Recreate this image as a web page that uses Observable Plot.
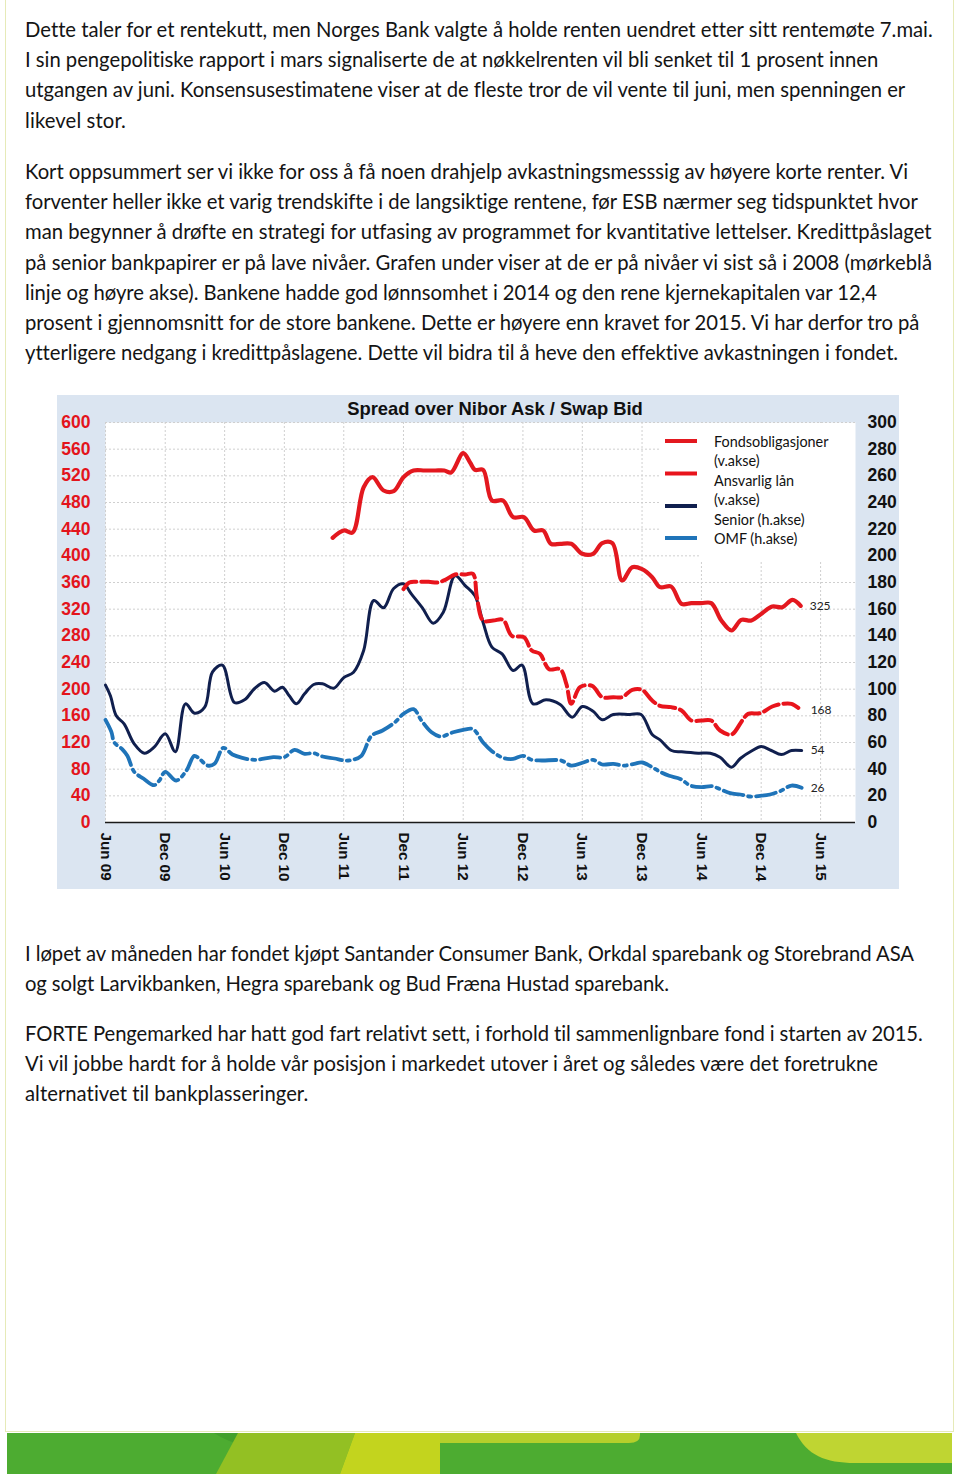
<!DOCTYPE html>
<html>
<head>
<meta charset="utf-8">
<script src="https://cdn.jsdelivr.net/npm/d3@7"></script>
<script src="https://cdn.jsdelivr.net/npm/@observablehq/plot@0.6"></script>
<style>
  html, body { margin: 0; padding: 0; background: #fff; }
  body { width: 960px; height: 1481px; position: relative; overflow: hidden; font-family: Lato, "Open Sans", sans-serif; color: #141414; }
  .border { position: absolute; left: 5px; top: -1px; width: 949px; height: 1433px; border: 1px solid #e6eab8; box-sizing: border-box; }
  .para { position: absolute; left: 25px; line-height: 30.2px; }
  .ln { display: block; width: max-content; white-space: nowrap; }
  #panel { position: absolute; left: 57px; top: 395px; width: 842px; height: 494px; background: #dbe5f1; }
  #plot { position: absolute; left: 0; top: 0; }
  #title { position: absolute; left: 0; width: 876px; top: 3px; text-align: center; font-family: "Liberation Sans", Arial, sans-serif; font-weight: bold; font-size: 18.4px; color: #111; }
  .legbox { position: absolute; background: #fff; }
  #legtext { position: absolute; left: 657px; top: 37px; font-family: Lato, sans-serif; font-size: 14.4px; line-height: 19.4px; color: #111; white-space: nowrap; }
  #legsvg { position: absolute; left: 600px; top: 30px; }
  #banner { position: absolute; left: 7px; top: 1433px; }
</style>
</head>
<body>
<div class="border"></div>

<div class="para" id="p1" style="top:14px">
  <span class="ln" data-w="905">Dette taler for et rentekutt, men Norges Bank valgte å holde renten uendret etter sitt rentemøte 7.mai.</span>
  <span class="ln" data-w="854">I sin pengepolitiske rapport i mars signaliserte de at nøkkelrenten vil bli senket til 1 prosent innen</span>
  <span class="ln" data-w="881">utgangen av juni. Konsensusestimatene viser at de fleste tror de vil vente til juni, men spenningen er</span>
  <span class="ln" data-w="101">likevel stor.</span>
</div>

<div class="para" id="p2" style="top:156px">
  <span class="ln" data-w="883">Kort oppsummert ser vi ikke for oss å få noen drahjelp avkastningsmesssig av høyere korte renter. Vi</span>
  <span class="ln" data-w="893">forventer heller ikke et varig trendskifte i de langsiktige rentene, før ESB nærmer seg tidspunktet hvor</span>
  <span class="ln" data-w="905">man begynner å drøfte en strategi for utfasing av programmet for kvantitative lettelser. Kredittpåslaget</span>
  <span class="ln" data-w="907">på senior bankpapirer er på lave nivåer. Grafen under viser at de er på nivåer vi sist så i 2008 (mørkeblå</span>
  <span class="ln" data-w="852">linje og høyre akse). Bankene hadde god lønnsomhet i 2014 og den rene kjernekapitalen var 12,4</span>
  <span class="ln" data-w="893">prosent i gjennomsnitt for de store bankene. Dette er høyere enn kravet for 2015. Vi har derfor tro på</span>
  <span class="ln" data-w="871">ytterligere nedgang i kredittpåslagene. Dette vil bidra til å heve den effektive avkastningen i fondet.</span>
</div>

<div id="panel">
  <div id="plot"></div>
  <div id="title">Spread over Nibor Ask / Swap Bid</div>
  <div class="legbox" style="left:603px; top:28px; width:195px; height:125px;"></div>
  <div class="legbox" style="left:643px; top:150px; width:155px; height:17px;"></div>
  <svg id="legsvg" width="50" height="120"></svg>
  <div id="legtext"></div>
</div>

<div class="para" id="p3" style="top:938px">
  <span class="ln" data-w="889">I løpet av måneden har fondet kjøpt Santander Consumer Bank, Orkdal sparebank og Storebrand ASA</span>
  <span class="ln" data-w="644">og solgt Larvikbanken, Hegra sparebank og Bud Fræna Hustad sparebank.</span>
</div>

<div class="para" id="p4" style="top:1018px">
  <span class="ln" data-w="897">FORTE Pengemarked har hatt god fart relativt sett, i forhold til sammenlignbare fond i starten av 2015.</span>
  <span class="ln" data-w="853">Vi vil jobbe hardt for å holde vår posisjon i markedet utover i året og således være det foretrukne</span>
  <span class="ln" data-w="284">alternativet til bankplasseringer.</span>
</div>

<svg id="banner" width="945" height="41" viewBox="0 0 945 41">
  <rect x="0" y="0" width="945" height="41" fill="#4dac31"/>
  <circle cx="254" cy="-72" r="86" fill="#43a02d"/>
  <polygon points="231,0 348,0 333,41 209,41" fill="#93c023"/>
  <polygon points="348,0 433,0 433,41 333,41" fill="#c3d41e"/>
  <path d="M433,0 L633,0 L633,2 Q633,10 622,10 L433,10 Z" fill="#b5cf2b"/>
  <path d="M789,0 C800,22 818,30 848,30 L945,30 L945,0 Z" fill="#bfd532"/>
</svg>

<script>
// ---------------- DATA ----------------
const chartTitle = "Spread over Nibor Ask / Swap Bid";
const seriesNames = ["Fondsobligasjoner", "Ansvarlig lån", "Senior", "OMF"];
const legendLines = ["Fondsobligasjoner", "(v.akse)", "Ansvarlig lån", "(v.akse)", "Senior (h.akse)", "OMF (h.akse)"];
const xTickDates = ["2009-06-01","2009-12-01","2010-06-01","2010-12-01","2011-06-01","2011-12-01","2012-06-01","2012-12-01","2013-06-01","2013-12-01","2014-06-01","2014-12-01","2015-06-01"];
const leftTicks = [0,40,80,120,160,200,240,280,320,360,400,440,480,520,560,600];
const rightTicks = [0,20,40,60,80,100,120,140,160,180,200,220,240,260,280,300];
const endLabels = [325, 168, 54, 26];

// Fondsobligasjoner (venstre akse, bp)
const fondsobligasjoner = [
["2011-04-28",427],["2011-06-01",438],["2011-06-28",435],["2011-08-01",503],["2011-08-28",518],["2011-10-01",498],["2011-11-01",497],["2011-12-01",518],["2012-01-01",528],["2012-02-04",528],["2012-03-07",528],["2012-04-04",528],["2012-04-25",525],["2012-06-01",554],["2012-06-22",540],["2012-07-07",529],["2012-08-01",529],["2012-08-28",483],["2012-10-01",483],["2012-11-01",458],["2012-12-04",458],["2013-01-04",438],["2013-02-01",438],["2013-02-25",418],["2013-03-25",418],["2013-04-28",418],["2013-06-01",403],["2013-07-04",403],["2013-08-01",419],["2013-09-01",419],["2013-10-01",363],["2013-11-01",383],["2013-12-01",380],["2014-01-01",368],["2014-01-25",353],["2014-02-28",354],["2014-04-01",328],["2014-05-01",329],["2014-06-01",329],["2014-07-01",329],["2014-08-01",303],["2014-09-01",288],["2014-10-01",304],["2014-11-01",303],["2014-12-04",314],["2015-01-04",324],["2015-02-04",323],["2015-03-07",334],["2015-04-01",325]
];
// Ansvarlig lån (venstre akse, bp)
const ansvarligLaan = [
["2011-12-01",350],["2011-12-19",360],["2012-01-13",361],["2012-02-16",361],["2012-03-16",360],["2012-04-07",364],["2012-05-07",372],["2012-06-07",372],["2012-07-01",373],["2012-07-13",338],["2012-08-01",303],["2012-09-01",303],["2012-10-01",304],["2012-10-28",280],["2012-12-04",278],["2012-12-28",258],["2013-01-22",253],["2013-02-19",230],["2013-03-25",230],["2013-04-13",208],["2013-04-28",178],["2013-05-25",203],["2013-07-01",205],["2013-08-01",188],["2013-09-04",188],["2013-10-01",188],["2013-11-01",199],["2013-12-01",199],["2014-01-01",183],["2014-01-25",175],["2014-02-28",173],["2014-04-01",168],["2014-05-01",153],["2014-06-01",153],["2014-07-01",153],["2014-07-28",138],["2014-09-01",132],["2014-10-04",153],["2014-10-22",163],["2014-11-28",164],["2015-01-04",174],["2015-02-04",178],["2015-03-04",178],["2015-04-04",168]
];
// Senior (høyre akse, bp)
const senior = [
["2009-06-01",103],["2009-06-16",95],["2009-07-04",80],["2009-07-28",74],["2009-08-28",59],["2009-09-28",52],["2009-10-28",56.5],["2009-12-01",66.5],["2010-01-01",53],["2010-02-01",89],["2010-03-01",82],["2010-04-01",86.5],["2010-04-25",113],["2010-05-25",118],["2010-07-01",90],["2010-08-01",92],["2010-09-01",100.5],["2010-10-01",105],["2010-11-01",98.5],["2010-11-25",101.5],["2010-12-16",95],["2011-01-07",89],["2011-02-01",96.5],["2011-03-01",103.5],["2011-03-28",104],["2011-05-01",100.7],["2011-06-01",108.7],["2011-07-01",112.7],["2011-08-01",129],["2011-09-01",166.5],["2011-10-01",161],["2011-11-01",175.5],["2011-12-01",179],["2011-12-25",171.5],["2012-01-28",161],["2012-03-01",149.5],["2012-04-01",157.7],["2012-05-07",185],["2012-06-07",177.7],["2012-07-07",170],["2012-08-01",150],["2012-08-28",131.5],["2012-09-28",126.5],["2012-11-01",114],["2012-11-28",118],["2013-01-01",89],["2013-02-10",92],["2013-03-25",88.5],["2013-05-01",79],["2013-06-01",87],["2013-07-04",83.5],["2013-08-01",77],["2013-09-04",81],["2013-10-25",81],["2013-11-28",81],["2014-01-01",66],["2014-01-25",62],["2014-03-01",54],["2014-04-01",53],["2014-05-22",52],["2014-06-28",52],["2014-07-28",49],["2014-09-01",41.5],["2014-09-28",48],["2014-11-04",54],["2014-12-01",57],["2015-01-01",54],["2015-02-01",51],["2015-03-04",54],["2015-04-04",54]
];
// OMF (høyre akse, bp)
const omf = [
["2009-06-01",77],["2009-06-19",68],["2009-06-28",60],["2009-07-22",55],["2009-08-07",50],["2009-08-28",38],["2009-09-25",33],["2009-10-28",28],["2009-11-13",31.5],["2009-12-01",38],["2010-01-04",31.5],["2010-02-04",39],["2010-02-28",50],["2010-03-16",47.7],["2010-04-10",42.7],["2010-05-01",44],["2010-05-28",56],["2010-06-25",51],["2010-07-25",48.5],["2010-09-01",47],["2010-10-28",49],["2010-12-01",49],["2011-01-01",54.5],["2011-02-01",51.5],["2011-03-01",52],["2011-03-28",49.5],["2011-05-04",48],["2011-06-04",46.5],["2011-06-28",47],["2011-07-25",50],["2011-08-25",65],["2011-09-28",69],["2011-11-04",75],["2011-12-01",81.5],["2012-01-01",85],["2012-01-25",76.5],["2012-02-25",67.7],["2012-03-25",64.5],["2012-05-01",67.7],["2012-06-01",69.5],["2012-07-01",70],["2012-08-01",60],["2012-08-28",53.5],["2012-10-01",48.5],["2012-11-01",47.7],["2012-12-01",50],["2012-12-28",47],["2013-01-28",46.5],["2013-03-28",46.5],["2013-04-28",42.7],["2013-06-04",45],["2013-07-04",47],["2013-08-01",43.5],["2013-09-04",44],["2013-10-04",42.7],["2013-11-07",44],["2013-12-01",45],["2014-01-01",41.5],["2014-01-25",38],["2014-02-22",35],["2014-03-28",32.7],["2014-04-28",27.7],["2014-06-01",26.5],["2014-07-04",27.2],["2014-07-28",25],["2014-08-28",22],["2014-09-28",21],["2014-10-28",19.5],["2014-11-28",20],["2014-12-28",21],["2015-01-28",23.5],["2015-03-04",27.7],["2015-04-04",26]
];

// ---------------- STYLE ----------------
const colors = { fonds: "#e3181f", ansv: "#e8141c", senior: "#101f4e", omf: "#1f74b9" };
const rightFactor = 2; // høyre akse (0–300) mot venstre akse (0–600)

// ---------------- TEXT FITTING ----------------
(function fitText() {
  const lines = Array.from(document.querySelectorAll(".ln"));
  const first = lines[0];
  first.style.fontSize = "100px";
  const w100 = first.getBoundingClientRect().width;
  const base = 100 * (+first.dataset.w) / w100;
  lines.forEach(el => {
    el.style.fontSize = base + "px";
    el.style.letterSpacing = "0px";
    const w = el.getBoundingClientRect().width;
    const target = +el.dataset.w;
    const n = el.textContent.length;
    el.style.letterSpacing = ((target - w) / n) + "px";
  });
})();

// ---------------- CHART ----------------
const toRows = (arr, k) => arr.map(([d, v]) => ({ date: new Date(d), v: v * k }));
const fondsRows = toRows(fondsobligasjoner, 1);
const ansvRows = toRows(ansvarligLaan, 1);
const seniorRows = toRows(senior, rightFactor);
const omfRows = toRows(omf, rightFactor);
const xTicks = xTickDates.map(d => new Date(d));
const yTicks = leftTicks;

const lastRows = [fondsRows, ansvRows, seniorRows, omfRows].map((rows, i) => ({ ...rows[rows.length - 1], label: String(endLabels[i]) }));

const chart = Plot.plot({
  width: 842,
  height: 494,
  marginLeft: 48,
  marginRight: 44,
  marginTop: 27,
  marginBottom: 67,
  style: { background: "transparent", fontFamily: "'Liberation Sans', Arial, sans-serif", overflow: "visible" },
  x: { type: "utc", domain: [new Date("2009-06-01"), new Date("2015-09-16")] },
  y: { domain: [0, 600] },
  marks: [
    Plot.frame({ fill: "#ffffff", stroke: "none" }),
    Plot.gridY(yTicks, { stroke: "#cfcfcf", strokeOpacity: 1, strokeDasharray: "2,2" }),
    Plot.gridX(xTicks, { stroke: "#cfcfcf", strokeOpacity: 1, strokeDasharray: "2,2" }),
    Plot.ruleY([0], { stroke: "#1a1a1a", strokeWidth: 1.5 }),
    Plot.axisY(yTicks, { anchor: "left", tickSize: 0, tickPadding: 15, fill: "#e3141c", fontWeight: "bold", fontSize: 17.5, label: null }),
    Plot.axisY(rightTicks.map(t => t * rightFactor), { anchor: "right", tickSize: 0, tickPadding: 12, tickFormat: d => String(d / rightFactor), fill: "#111", fontWeight: "bold", fontSize: 17.5, label: null }),
    Plot.axisX(xTicks, { anchor: "bottom", tickSize: 0, tickPadding: 10, tickRotate: 90, tickFormat: d3.utcFormat("%b %y"), fill: "#111", fontWeight: "bold", fontSize: 15.2, label: null }),
    Plot.line(omfRows, { x: "date", y: "v", stroke: colors.omf, strokeWidth: 3.8, strokeDasharray: "20,5,3,5", curve: "catmull-rom" }),
    Plot.line(seniorRows, { x: "date", y: "v", stroke: colors.senior, strokeWidth: 3, curve: "catmull-rom" }),
    Plot.line(ansvRows, { x: "date", y: "v", stroke: colors.ansv, strokeWidth: 4, strokeDasharray: "16,5", curve: "catmull-rom" }),
    Plot.line(fondsRows, { x: "date", y: "v", stroke: colors.fonds, strokeWidth: 4.2, curve: "catmull-rom" }),
    Plot.text(lastRows, { x: "date", y: "v", text: "label", dx: 9, textAnchor: "start", fontSize: 12, fontFamily: "Lato, sans-serif", fill: "#222" })
  ]
});
document.getElementById("plot").appendChild(chart);
document.getElementById("title").textContent = chartTitle;

// ---------------- LEGEND ----------------
document.getElementById("legtext").innerHTML = legendLines.map(t => `<div>${t}</div>`).join("");
const legSvg = d3.select("#legsvg");
const legItems = [
  { color: colors.fonds, y: 16 },
  { color: colors.ansv, y: 48.5 },
  { color: colors.senior, y: 81 },
  { color: colors.omf, y: 113 }
];
legItems.forEach(it => {
  legSvg.append("line").attr("x1", 8).attr("x2", 40).attr("y1", it.y).attr("y2", it.y)
    .attr("stroke", it.color).attr("stroke-width", 4);
});
</script>
</body>
</html>
